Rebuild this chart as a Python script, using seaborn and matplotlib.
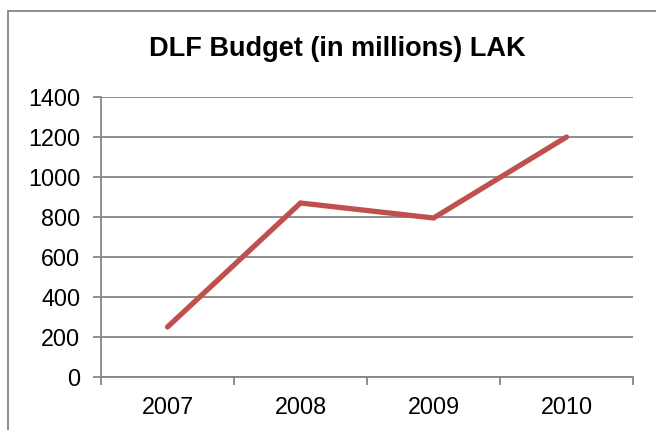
import matplotlib
matplotlib.use("Agg")
import matplotlib.pyplot as plt
from matplotlib.patches import Rectangle
from matplotlib.ticker import FixedLocator, NullFormatter
import seaborn as sns
import pandas as pd

# Budget figures by year
years = ["2007", "2008", "2009", "2010"]
budget = [250, 870, 795, 1200]
y_ticks = [0, 200, 400, 600, 800, 1000, 1200, 1400]
title = "DLF Budget (in millions) LAK"

sns.set_theme(style="white")
plt.rcParams["font.family"] = ["Liberation Sans", "DejaVu Sans"]

df = pd.DataFrame({"year": years, "budget": budget})

W, H = 656, 430
fig = plt.figure(figsize=(W / 100, H / 100), dpi=100)
ax = fig.add_axes([101 / W, 1 - 377 / H, (633 - 101) / W, (377 - 97) / H])

grid_col = "#868686"
line_col = "#C0504D"

# outer chart frame
fig.patches.append(Rectangle((8 / W, -0.5), 2.0, 1.5 - 11 / H,
                             transform=fig.transFigure, fill=False,
                             edgecolor=grid_col, linewidth=1.3, zorder=0))

sns.lineplot(data=df, x="year", y="budget", ax=ax, sort=False,
             color=line_col, linewidth=3.8, solid_capstyle="round",
             solid_joinstyle="miter", zorder=3)

ax.set_xlim(-0.5, len(years) - 0.5)
ax.set_ylim(0, 1400)
ax.set_yticks(y_ticks)
ax.set_yticklabels([str(v) for v in y_ticks])

# category boundaries carry the tick marks, labels sit at the centres
ax.xaxis.set_major_locator(FixedLocator([i - 0.5 for i in range(len(years) + 1)]))
ax.xaxis.set_major_formatter(NullFormatter())
ax.xaxis.set_minor_locator(FixedLocator(list(range(len(years)))))
ax.set_xticklabels(years, minor=True)
ax.tick_params(axis="x", which="major", direction="out", length=6,
               width=1.3, color=grid_col, bottom=True)
ax.tick_params(axis="x", which="minor", length=0, pad=14,
               labelsize=16.8, labelcolor="black")
ax.tick_params(axis="y", direction="out", length=6, width=1.3,
               color=grid_col, left=True, pad=9, labelsize=16.8,
               labelcolor="black")

ax.yaxis.grid(True, color=grid_col, linewidth=1.3)
ax.xaxis.grid(False)
ax.set_axisbelow(True)
for side in ("top", "right"):
    ax.spines[side].set_visible(False)
for side in ("left", "bottom"):
    ax.spines[side].set_color(grid_col)
    ax.spines[side].set_linewidth(1.3)

ax.set_xlabel("")
ax.set_ylabel("")

fig.text(337 / W, 1 - 49 / H, title, ha="center", va="center",
         fontsize=19.5, fontweight="bold", color="black")

fig.savefig("out.png", dpi=100, facecolor="white")
